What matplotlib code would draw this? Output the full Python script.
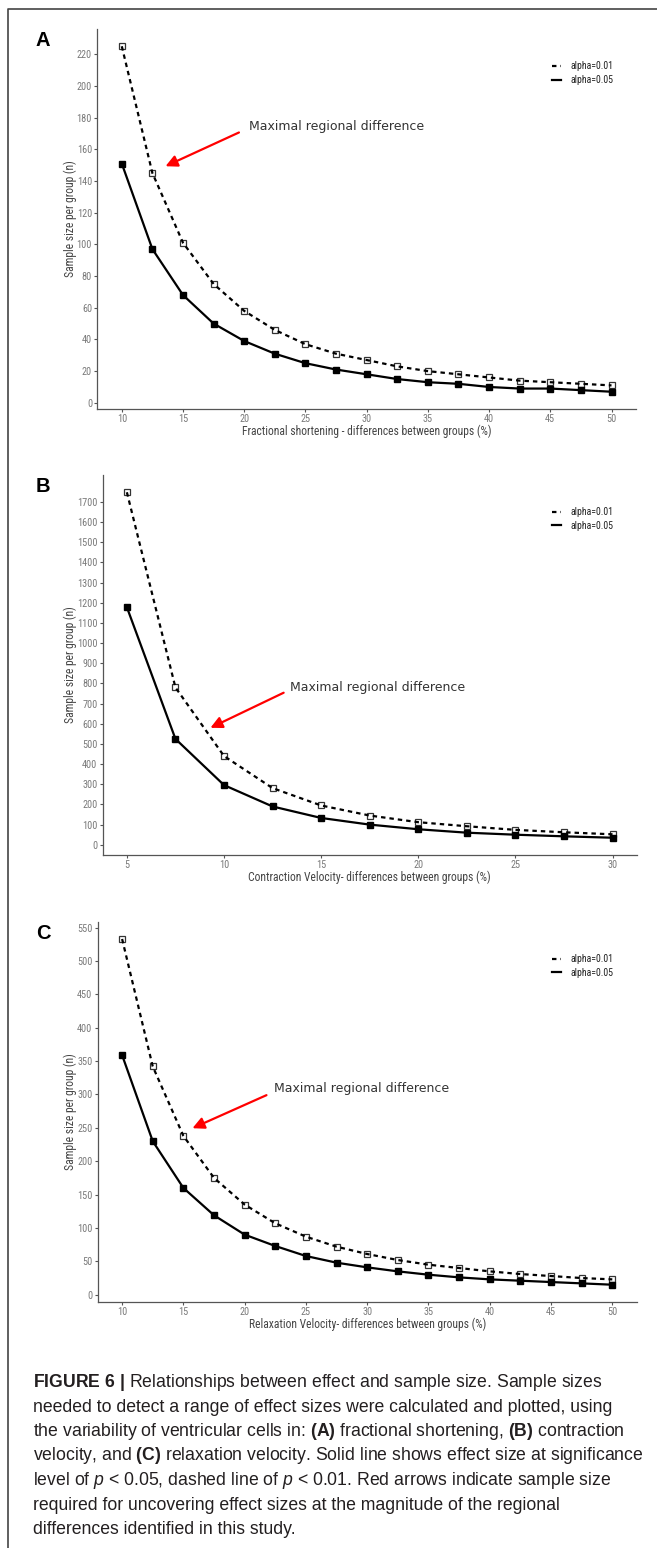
import matplotlib.pyplot as plt
from matplotlib import font_manager
from matplotlib.font_manager import FontProperties
from matplotlib.lines import Line2D

# Values
fs_diff = [10, 12.5, 15, 17.5, 20, 22.5, 25, 27.5, 30, 32.5, 35, 37.5, 40, 42.5, 45, 47.5, 50]
fs_n_a01 = [225, 145, 101, 75, 58, 46, 37, 31, 27, 23, 20, 18, 16, 14, 13, 12, 11]
fs_n_a05 = [151, 97, 68, 50, 39, 31, 25, 21, 18, 15, 13, 12, 10, 9, 9, 8, 7]

cv_diff = [5, 7.5, 10, 12.5, 15, 17.5, 20, 22.5, 25, 27.5, 30]
cv_n_a01 = [1748, 780, 440, 281, 195, 145, 112, 92, 74, 62, 52]
cv_n_a05 = [1178, 525, 296, 190, 133, 100, 77, 60, 50, 42, 35]

rv_diff = [10, 12.5, 15, 17.5, 20, 22.5, 25, 27.5, 30, 32.5, 35, 37.5, 40, 42.5, 45, 47.5, 50]
rv_n_a01 = [533, 342, 238, 175, 135, 107, 87, 72, 61, 52, 45, 40, 35, 31, 28, 25, 23]
rv_n_a05 = [359, 230, 160, 119, 90, 73, 58, 48, 41, 35, 30, 26, 23, 21, 19, 17, 15]

fs_xticks = [10, 15, 20, 25, 30, 35, 40, 45, 50]
fs_yticks = list(range(0, 221, 20))
cv_xticks = [5, 10, 15, 20, 25, 30]
cv_yticks = list(range(0, 1701, 100))
rv_xticks = [10, 15, 20, 25, 30, 35, 40, 45, 50]
rv_yticks = list(range(0, 551, 50))

legend_labels = ['alpha=0.01', 'alpha=0.05']
y_title = 'Sample size per group (n)'
arrow_text = 'Maximal regional difference'

caption_lines = [
    r'$\mathbf{FIGURE\ 6\ |}$ Relationships between effect and sample size. Sample sizes',
    'needed to detect a range of effect sizes were calculated and plotted, using',
    r'the variability of ventricular cells in: $\mathbf{(A)}$ fractional shortening, $\mathbf{(B)}$ contraction',
    r'velocity, and $\mathbf{(C)}$ relaxation velocity. Solid line shows effect size at significance',
    r'level of $\mathit{p}$ < 0.05, dashed line of $\mathit{p}$ < 0.01. Red arrows indicate sample size',
    'required for uncovering effect sizes at the magnitude of the regional',
    'differences identified in this study.',
]

# look for a narrow face for the ggplot axis text (the original is Arial Narrow)
fonts = font_manager.fontManager.ttflist


def is_regular(f):
    return f.style == 'normal' and str(f.weight) in ('400', 'normal', 'regular', 'book')


narrow_path = None
for want in ['Liberation Sans Narrow', 'Arial Narrow', 'Roboto Condensed',
             'Noto Sans Condensed', 'Open Sans Condensed', 'DejaVu Sans Condensed']:
    hits = [f for f in fonts if f.name == want and is_regular(f)]
    if hits:
        narrow_path = hits[0].fname
        break
if narrow_path is None:
    hits = [f for f in fonts if is_regular(f) and str(f.stretch) in ('condensed', 'semi-condensed')]
    if hits:
        narrow_path = hits[0].fname

if narrow_path:
    ax_font = FontProperties(fname=narrow_path)
    tick_size, title_size, leg_size = 7.4, 8.4, 7.1
else:
    ax_font = FontProperties(family='Liberation Sans')
    tick_size, title_size, leg_size = 6.4, 7.5, 6.6


def fp(size):
    p = ax_font.copy()
    p.set_size(size)
    return p


plt.rcParams['font.family'] = ['Liberation Sans', 'DejaVu Sans']
plt.rcParams['mathtext.fontset'] = 'custom'
plt.rcParams['mathtext.rm'] = 'Liberation Sans'
plt.rcParams['mathtext.it'] = 'Liberation Sans:italic'
plt.rcParams['mathtext.bf'] = 'Liberation Sans:bold'

W, H = 657, 1548
fig = plt.figure(figsize=(W / 100, H / 100), dpi=100)


def add_panel(box, x, n01, n05, xticks, yticks, letter, xtitle,
              head, tail, text_xy, legend_top, ylab_x):
    left, top, right, bottom = box
    ax = fig.add_axes([left / W, 1 - bottom / H, (right - left) / W, (bottom - top) / H])

    # dashed = alpha 0.01, solid = alpha 0.05
    l01, = ax.plot(x, n01, color='black', lw=1.6, dashes=(2, 1.8), zorder=3)
    l05, = ax.plot(x, n05, color='black', lw=1.6, zorder=3)
    ax.plot(x, n01, ls='none', marker='s', ms=4.4, mfc='white', mec='#333333', mew=0.9, zorder=2)
    ax.plot(x, n05, ls='none', marker='s', ms=4.6, mfc='black', mec='black', zorder=4)

    # ggplot default expansion
    lo = min(min(n01), min(n05))
    hi = max(max(n01), max(n05))
    ax.set_ylim(lo - 0.05 * (hi - lo), hi + 0.05 * (hi - lo))
    ax.set_xlim(min(x) - 0.05 * (max(x) - min(x)), max(x) + 0.05 * (max(x) - min(x)))
    ax.set_xticks(xticks)
    ax.set_yticks(yticks)

    for s in ['top', 'right']:
        ax.spines[s].set_visible(False)
    for s in ['left', 'bottom']:
        ax.spines[s].set_color('#555555')
        ax.spines[s].set_linewidth(0.9)
    ax.tick_params(length=2.3, width=0.8, color='#555555', labelcolor='#7a7a7a', pad=1.5)
    for lab in ax.get_xticklabels() + ax.get_yticklabels():
        lab.set_fontproperties(fp(tick_size))

    ax.set_xlabel(xtitle, fontproperties=fp(title_size), color='#444444')
    ax.xaxis.set_label_coords(0.5, -22 / (bottom - top))
    ax.xaxis.label.set_va('center')
    ax.set_ylabel(y_title, fontproperties=fp(title_size), color='#444444')
    ax.yaxis.set_label_coords((ylab_x - left) / (right - left), 0.5)
    ax.yaxis.label.set_va('center')

    leg = ax.legend([l01, l05], legend_labels, loc='upper left',
                    bbox_to_anchor=(552 / W, 1 - (legend_top - 6) / H),
                    bbox_transform=fig.transFigure, frameon=False, borderpad=0,
                    borderaxespad=0, handlelength=0.9, handletextpad=1.0,
                    labelspacing=0.4, prop=fp(leg_size))
    for t in leg.get_texts():
        t.set_color('#222222')

    ax.annotate('', xy=head, xytext=tail,
                arrowprops=dict(arrowstyle='-|>,head_length=0.7,head_width=0.35',
                                color='#ff0000', lw=1.6, shrinkA=0, shrinkB=0,
                                mutation_scale=10))
    ax.text(text_xy[0], text_xy[1], arrow_text, fontsize=9.0, family='DejaVu Sans',
            color='#333333', ha='left', va='center')

    fig.text(43 / W, 1 - (top + 12) / H, letter, fontsize=14.5, weight='bold',
             family='Liberation Sans', ha='center', va='center')
    return ax


add_panel((97.3, 29, 636, 409), fs_diff, fs_n_a01, fs_n_a05, fs_xticks, fs_yticks, 'A',
          'Fractional shortening - differences between groups (%)',
          (13.57, 149.3), (19.57, 170.6), (20.36, 174.4), 67.3, 70)
add_panel((102.6, 475, 636.8, 855), cv_diff, cv_n_a01, cv_n_a05, cv_xticks, cv_yticks, 'B',
          'Contraction Velocity- differences between groups (%)',
          (9.30, 580), (13.07, 754), (13.39, 779), 513, 70)
add_panel((97.6, 921.7, 636.8, 1302), rv_diff, rv_n_a01, rv_n_a05, rv_xticks, rv_yticks, 'C',
          'Relaxation Velocity- differences between groups (%)',
          (15.74, 249.5), (21.78, 299), (22.4, 309), 960, 70)

# frame around the figure (left and top only)
fig.add_artist(Line2D([8 / W, 8 / W, 1], [0, 1 - 9 / H, 1 - 9 / H],
                      transform=fig.transFigure, color='#444444', lw=1.2))

# caption
for i, line in enumerate(caption_lines):
    y = 1381 + 24.5 * i + 6
    fig.text(33 / W, 1 - y / H, line, fontsize=12.7, family='Liberation Sans',
             color='#231f20', ha='left', va='baseline')

fig.savefig('out.png', dpi=100)
